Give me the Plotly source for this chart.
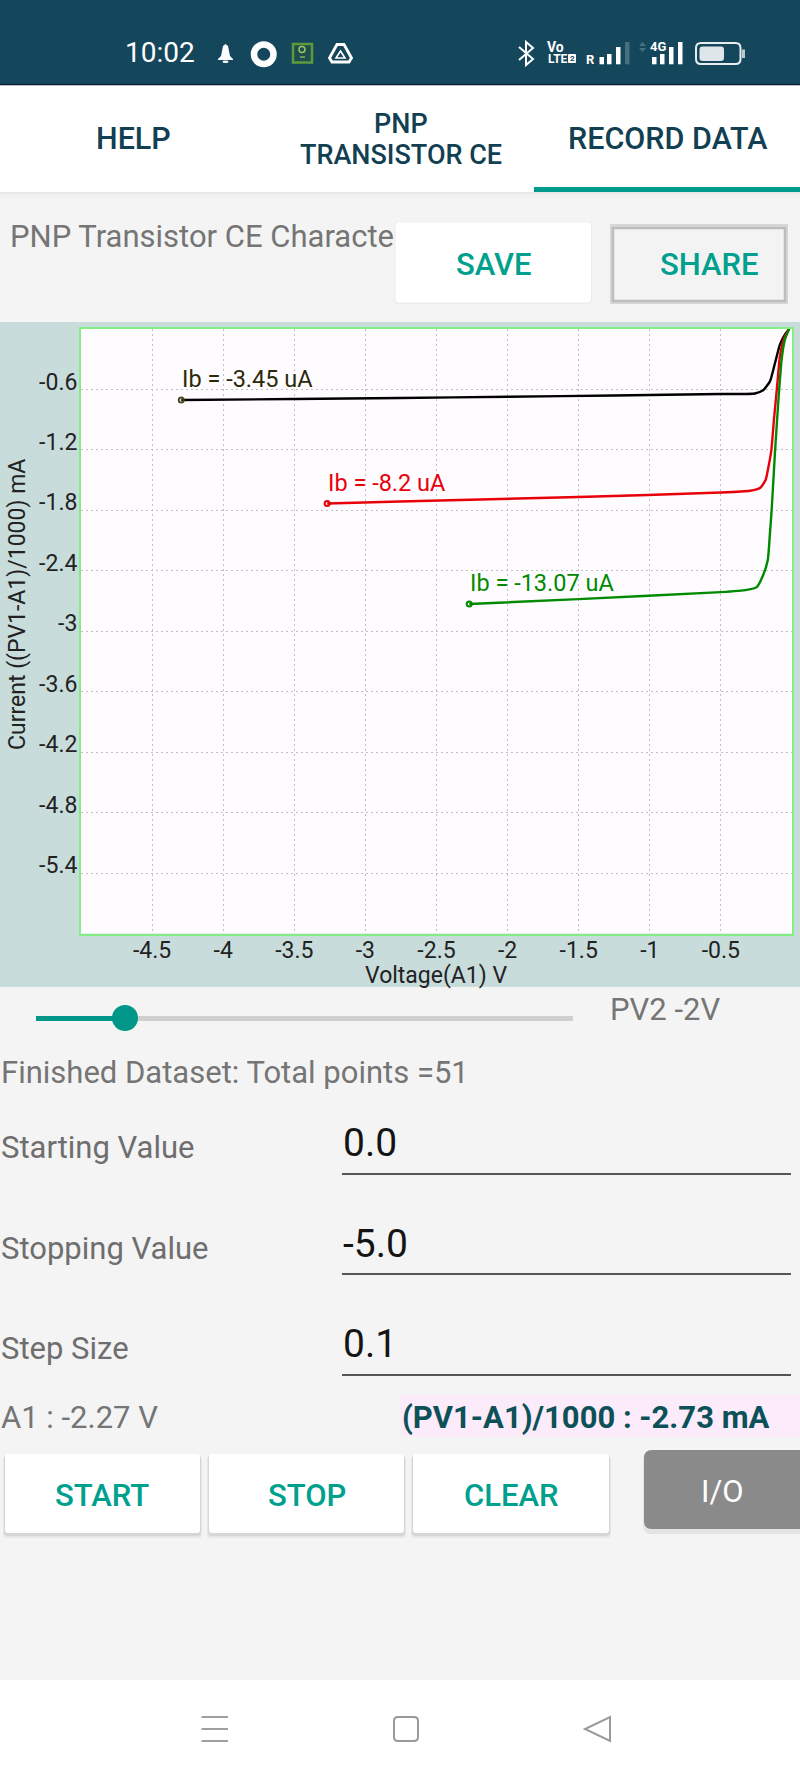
"""PNP transistor CE characteristic curves shown inside the phone app screen."""
import plotly.graph_objects as go

W, H = 800, 1778

# chart data
black_v = [-4.295, -3.5, -2.756, -2.0, -1.25, -0.5, -0.26, -0.202, -0.155, -0.12, -0.085, -0.05, -0.02]
black_i = [-0.705, -0.695, -0.685, -0.672, -0.66, -0.645, -0.64, -0.607, -0.52, -0.34, -0.155, -0.055, 0.0]
red_v = [-3.269, -2.756, -1.502, -0.5, -0.295, -0.225, -0.185, -0.165, -0.145, -0.127, -0.105, -0.085, -0.055, -0.02]
red_i = [-1.732, -1.712, -1.668, -1.623, -1.606, -1.579, -1.497, -1.364, -1.199, -0.9, -0.57, -0.272, -0.09, 0.0]
green_v = [-2.27, -1.502, -0.5, -0.318, -0.248, -0.202, -0.17, -0.155, -0.143, -0.12, -0.097, -0.073, -0.05, -0.02]
green_i = [-2.73, -2.681, -2.612, -2.589, -2.562, -2.44, -2.29, -2.026, -1.794, -1.231, -0.735, -0.305, -0.106, 0.0]
series_labels = ["Ib = -3.45 uA", "Ib = -8.2 uA", "Ib = -13.07 uA"]
series_colors = ["#000000", "#e8000b", "#008a00"]
label_colors = ["#2a2a08", "#e8000b", "#008a00"]
marker_colors = ["#4a4a20", "#e8000b", "#008a00"]

x_ticks = [-4.5, -4, -3.5, -3, -2.5, -2, -1.5, -1, -0.5]
x_tick_text = ["-4.5", "-4", "-3.5", "-3", "-2.5", "-2", "-1.5", "-1", "-0.5"]
y_ticks = [-0.6, -1.2, -1.8, -2.4, -3, -3.6, -4.2, -4.8, -5.4]
y_tick_text = ["-0.6", "-1.2", "-1.8", "-2.4", "-3", "-3.6", "-4.2", "-4.8", "-5.4"]

TEAL = "#00a08e"
GREY_TEXT = "#757575"
NAVY = "#14465c"
FONT = "Roboto"


def px(x):
    return x / W


def py(y):
    return 1 - y / H


shapes = []
annotations = []


def rect(x0, y0, x1, y1, fill, line=None, lw=0, layer="below"):
    shapes.append(dict(type="rect", xref="paper", yref="paper", x0=px(x0), x1=px(x1), y0=py(y0), y1=py(y1),
                       fillcolor=fill, line=dict(color=line or fill, width=lw), layer=layer))


def rrect(x0, y0, x1, y1, r, fill=None, line=None, lw=0, layer="above"):
    # rounded box, corners drawn as quadratic curves
    p = lambda a, b: f"{px(a):.5f} {py(b):.5f}"
    d = (f"M {p(x0 + r, y0)} L {p(x1 - r, y0)} Q {p(x1, y0)} {p(x1, y0 + r)} L {p(x1, y1 - r)} Q {p(x1, y1)} {p(x1 - r, y1)} "
         f"L {p(x0 + r, y1)} Q {p(x0, y1)} {p(x0, y1 - r)} L {p(x0, y0 + r)} Q {p(x0, y0)} {p(x0 + r, y0)} Z")
    shapes.append(dict(type="path", xref="paper", yref="paper", path=d, fillcolor=fill or "rgba(0,0,0,0)",
                       line=dict(color=line or "rgba(0,0,0,0)", width=lw), layer=layer))


def oval(x0, y0, x1, y1, fill, line=None, lw=0, layer="above"):
    shapes.append(dict(type="circle", xref="paper", yref="paper", x0=px(x0), x1=px(x1), y0=py(y0), y1=py(y1),
                       fillcolor=fill, line=dict(color=line or fill, width=lw), layer=layer))


def poly(points, fill=None, line=None, lw=1.5, closed=True):
    d = "M " + " L ".join(f"{px(a):.5f} {py(b):.5f}" for a, b in points) + (" Z" if closed else "")
    shapes.append(dict(type="path", xref="paper", yref="paper", path=d, fillcolor=fill or "rgba(0,0,0,0)",
                       line=dict(color=line or "rgba(0,0,0,0)", width=lw), layer="above"))


def text(x, y, s, size, color, anchor="left", weight=400, font=FONT, angle=0):
    annotations.append(dict(xref="paper", yref="paper", x=px(x), y=py(y), text=s, showarrow=False, textangle=angle,
                            xanchor=anchor, yanchor="middle", borderpad=0, borderwidth=0,
                            font=dict(family=font, size=size, color=color, weight=weight)))


def card(x0, y0, x1, y1, label, ty=None):
    rrect(x0 - 2, y0 + 2, x1 + 2, y1 + 5, 4, fill="#e6e6e6", layer="below")
    rrect(x0 - 1, y0 + 1, x1 + 1, y1 + 3, 4, fill="#d6d6d6", layer="below")
    rrect(x0, y0, x1, y1, 3, fill="#ffffff", layer="below")
    text((x0 + x1) / 2, ty or (y0 + y1) / 2, label, 31, TEAL, "center", 500)


# status bar
rect(0, 0, W, 85, NAVY)
rect(0, 84, W, 85.5, "#061c2c")
text(160, 53, "10:02", 28, "#ffffff", "center")
poly([(225.5, 44), (228, 46), (230, 56), (233, 59), (233, 60), (218, 60), (218, 59), (221, 56), (223, 46)], fill="#ffffff")
oval(222.5, 60.5, 228.5, 63, "#ffffff")
oval(254, 44.5, 273.5, 64, NAVY, "#ffffff", 6.5)
rect(293, 44, 312, 62.5, "#1d4d4e", "#5c9a3c", 2.5, layer="above")
oval(299, 46.5, 305, 52.5, "rgba(0,0,0,0)", "#9cc45c", 1.5)
poly([(300, 57), (305, 57)], line="#8ab050", lw=1.5, closed=False)
poly([(337, 44.5), (344, 44.5), (351.5, 58), (349, 62), (332, 62), (329.5, 58)], line="#ffffff", lw=2.8)
poly([(340.5, 51), (345, 58), (336, 58)], line="#ffffff", lw=1.6)
poly([(519, 47), (533, 59), (526, 65), (526, 42), (533, 48), (519, 60)], line="#ffffff", lw=2, closed=False)
text(555, 47, "Vo", 14, "#ffffff", "center", 700)
text(558, 59, "LTE", 12, "#ffffff", "center", 700)
rrect(568, 54, 576, 63, 1, fill="#ffffff")
text(572, 58.5, "2", 8, NAVY, "center", 700)
text(590, 60, "R", 13, "#ffffff", "center", 700)
for x0, top, col in [(599.5, 57, "#ffffff"), (607, 54, "#ffffff"), (616, 47, "#ffffff"), (625, 42, "#44707f")]:
    rect(x0, top, x0 + 4.5, 64.3, col, layer="above")
poly([(642.5, 42), (646, 46), (639, 46)], fill="#44707f")
poly([(639, 48), (646, 48), (642.5, 52)], fill="#44707f")
text(657.5, 47, "4G", 13, "#ffffff", "center", 700)
for x0, top in [(652, 57), (660, 54), (669, 47), (678, 42)]:
    rect(x0, top, x0 + 4.5, 64.3, "#ffffff", layer="above")
rrect(696, 43, 740.5, 64, 5, line="#e8eef0", lw=2)
rrect(699.5, 46.5, 724, 61, 3, fill="#dfe6ea")
rect(742, 49.5, 745, 58, "#b9c7ce", layer="above")

# tab bar
rect(0, 85.5, W, 192, "#ffffff")
rect(0, 192, W, 194, "#e8e8e8")
rect(0, 194, W, 197, "#f0f0f0")
rect(534, 187, W, 192, "#009a8a")
text(133, 139, "HELP", 30.5, "#123f52", "center", 500)
text(401, 124, "PNP", 27, "#123f52", "center", 500)
text(401, 155, "TRANSISTOR CE", 27, "#123f52", "center", 500)
text(667, 139, "RECORD DATA", 30.5, "#123f52", "center", 500)

# header row
text(10, 236, "PNP Transistor CE Characte", 31, GREY_TEXT)
rrect(394.5, 222, 592, 304, 3, fill="#ececec", layer="below")
rrect(395.5, 222.5, 591, 302.5, 3, fill="#ffffff", layer="below")
text(494, 264, "SAVE", 31, TEAL, "center", 500)
rect(611, 225, 787, 303, "#dddddd", "#d6d6d6", 2, layer="below")
rect(613, 228, 785, 301, "#f3f3f3", "#bdbdbd", 2.5, layer="below")
text(709, 264, "SHARE", 31, TEAL, "center", 500)

# chart panel, with the plot area painted back on top of it
rect(0, 322, W, 987, "#c8dcdb")
rect(81, 329, 792, 933.5, "#fffcff")

# slider and dataset line
rect(36, 1016, 573, 1021, "#cfcfcf")
rect(36, 1016, 125, 1021, "#009688")
oval(112, 1005, 138, 1031, "#009688")
text(610, 1010, "PV2 -2V", 31, GREY_TEXT)
text(1, 1072, "Finished Dataset: Total points =51", 31, GREY_TEXT)

# input rows
for y, label, val, line_y in [(1147, "Starting Value", "0.0", 1174), (1248, "Stopping Value", "-5.0", 1274),
                              (1348, "Step Size", "0.1", 1375)]:
    text(1, y, label, 31, "#6e6e6e")
    text(343, y - 4, val, 39, "#141414")
    rect(342, line_y - 1, 791, line_y + 1, "#555555")

# readouts
text(1, 1417, "A1 : -2.27 V", 31, GREY_TEXT)
rect(400, 1395, W, 1437, "#fcebfa")
text(402, 1417, "(PV1-A1)/1000 : -2.73 mA", 31, "#0d5158", weight=700)

# buttons
card(5, 1454, 200, 1533, "START", ty=1495)
card(209, 1454, 404, 1533, "STOP", ty=1495)
card(413, 1454, 609, 1533, "CLEAR", ty=1495)
rrect(643, 1452, W + 8, 1534, 8, fill="#e4e4e4", layer="below")
rrect(644, 1450, W + 8, 1529, 8, fill="#8a8a8a", layer="below")
text(722, 1491, "I/O", 31, "#ffffff", "center")

# nav bar
rect(0, 1680, W, H, "#ffffff")
for y in (1717, 1729, 1741):
    rect(201.5, y - 1, 228, y + 1, "#a0a0a0", layer="above")
rrect(394, 1717, 418, 1741, 4, line="#999999", lw=2)
poly([(610, 1717), (610, 1741), (585, 1729)], line="#999999", lw=2)

# axis titles sit off-centre in the app, so they are placed by hand
text(17, 605, "Current ((PV1-A1)/1000) mA", 23, "#222222", "center", angle=-90)
text(436.5, 975, "Voltage(A1) V", 23, "#222222", "center")

fig = go.Figure()
curves = [(black_v, black_i), (red_v, red_i), (green_v, green_i)]
for (v, i), name, col, lab_col, mk_col in zip(curves, series_labels, series_colors, label_colors, marker_colors):
    fig.add_trace(go.Scatter(x=v, y=i, mode="lines", name=name,
                             line=dict(color=col, width=2.4, shape="spline", smoothing=0.5)))
    fig.add_trace(go.Scatter(x=v[:1], y=i[:1], mode="markers", showlegend=False,
                             marker=dict(symbol="circle-open", size=5, color=mk_col, line=dict(width=2, color=mk_col))))
    annotations.append(dict(x=v[0], y=i[0], xref="x", yref="y", text=name, showarrow=False, xanchor="left",
                            yanchor="middle", xshift=-1, yshift=21, font=dict(family=FONT, size=23.5, color=lab_col)))

axis_common = dict(
    tickmode="array", ticks="", showgrid=True, griddash="2px,3px", gridcolor="#c0c0c0", gridwidth=1, zeroline=False,
    showline=True, linecolor="#84ee84", linewidth=2, mirror=True,
    tickfont=dict(family=FONT, size=23, color="#222222"),
)
fig.update_xaxes(axis_common, range=[-5, 0], domain=[px(81), px(792)], tickvals=x_ticks, ticktext=x_tick_text,
                 ticklabelstandoff=-5)
fig.update_yaxes(axis_common, range=[-6, 0], domain=[py(933.5), py(329)], tickvals=y_ticks, ticktext=y_tick_text,
                 ticklabelshift=-8, ticklabelstandoff=-3)
fig.update_layout(
    width=W, height=H, margin=dict(l=0, r=0, t=0, b=0), showlegend=False,
    paper_bgcolor="#f4f4f4", plot_bgcolor="#fffcff", font=dict(family=FONT),
    shapes=shapes, annotations=annotations,
)

# the browser's default body margin would shift the whole screen by 8px
fig.write_html("out.html", config={"displayModeBar": False},
               post_script="document.body.style.margin='0';document.documentElement.style.overflow='hidden';")
